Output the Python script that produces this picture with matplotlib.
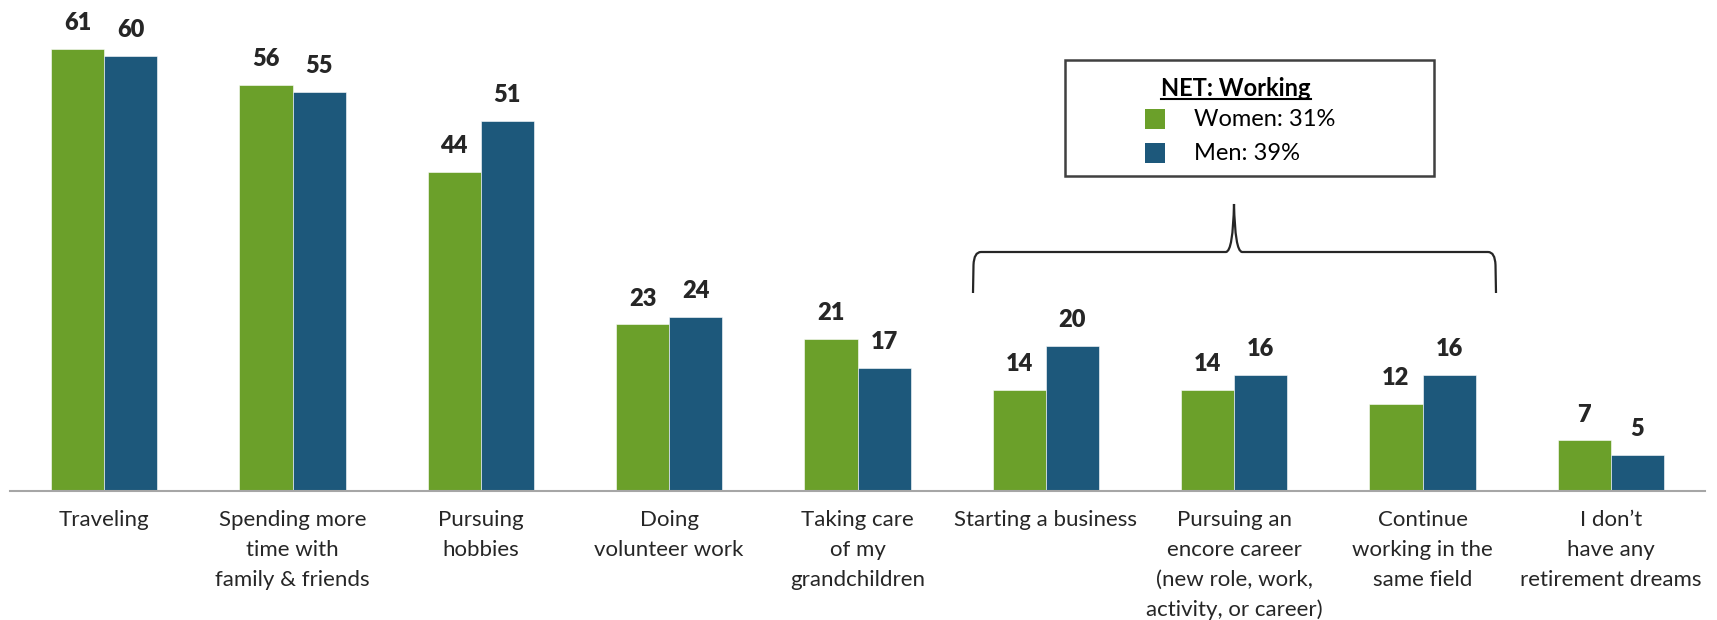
import numpy as np
import matplotlib
matplotlib.use("Agg")
import matplotlib.pyplot as plt
from matplotlib.path import Path
from matplotlib.patches import PathPatch, Rectangle
from matplotlib.lines import Line2D

categories = [
    "Traveling",
    "Spending more\ntime with\nfamily & friends",
    "Pursuing\nhobbies",
    "Doing\nvolunteer work",
    "Taking care\nof my\ngrandchildren",
    "Starting a business",
    "Pursuing an\nencore career\n(new role, work,\nactivity, or career)",
    "Continue\nworking in the\nsame field",
    "I don\u2019t\nhave any\nretirement dreams",
]
women = [61, 56, 44, 23, 21, 14, 14, 12, 7]
men = [60, 55, 51, 24, 17, 20, 16, 16, 5]
legend_title = "NET: Working"
legend_labels = ["Women: 31%", "Men: 39%"]

GREEN = "#6BA02A"
BLUE = "#1D587B"
TXT = "#262626"
FONT = ["Lato", "DejaVu Sans"]
plt.rcParams["font.family"] = FONT

W, H = 1717, 620
fig = plt.figure(figsize=(W / 100, H / 100), dpi=100)
ax = fig.add_axes([10 / W, 129 / H, 1695 / W, (65 * 7.25) / H])

x = np.arange(len(categories))
bw = 0.282
b1 = ax.bar(x - bw / 2, women, bw, color=GREEN, edgecolor="white", linewidth=0.4)
b2 = ax.bar(x + bw / 2, men, bw, color=BLUE, edgecolor="white", linewidth=0.4)

for bars, vals in ((b1, women), (b2, men)):
    for r, v in zip(bars, vals):
        ax.annotate(str(v), (r.get_x() + r.get_width() / 2, r.get_height()),
                    xytext=(0, 13.5), textcoords="offset points",
                    ha="center", va="baseline", fontsize=17, fontweight="heavy",
                    color=TXT)

ax.set_xlim(-0.5, len(categories) - 0.5)
ax.set_ylim(0, 65)
for s in ("left", "right", "top"):
    ax.spines[s].set_visible(False)
ax.spines["bottom"].set_color("#A6A6A6")
ax.spines["bottom"].set_linewidth(1.5)
ax.set_yticks([])
ax.set_xticks(x)
ax.set_xticklabels(categories, fontsize=16, color=TXT, linespacing=1.6)
ax.tick_params(axis="x", length=0, pad=14)

def P(px, py):
    return (px / W, 1 - py / H)

# Brace
verts = [(973, 293), (973.5, 265), (974, 252), (981, 252), (1226, 252),
         (1233, 251), (1234, 204), (1235, 251), (1242, 252), (1488, 252),
         (1495, 252), (1495.5, 265), (1496, 293)]
codes = [Path.MOVETO, Path.LINETO, Path.CURVE3, Path.CURVE3, Path.LINETO,
         Path.CURVE3, Path.CURVE3, Path.CURVE3, Path.CURVE3, Path.LINETO,
         Path.CURVE3, Path.CURVE3, Path.LINETO]
path = Path([P(*v) for v in verts], codes)
fig.add_artist(PathPatch(path, transform=fig.transFigure, fill=False,
                         edgecolor="#262626", linewidth=1.6))

# Legend box
x0, y0, x1, y1 = 1065, 60, 1434, 176
fig.add_artist(Rectangle(P(x0, y1), (x1 - x0) / W, (y1 - y0) / H,
                         transform=fig.transFigure, fill=True, facecolor="white",
                         edgecolor="#404040", linewidth=1.8))
t = fig.text(*P(1236, 88), legend_title, ha="center", va="center",
             fontsize=17, fontweight="bold", color="black")
fig.canvas.draw()
bb = t.get_window_extent(fig.canvas.get_renderer())
uy = bb.y0 + 1
fig.add_artist(Line2D([bb.x0 / W, bb.x1 / W], [uy / H, uy / H],
                      transform=fig.transFigure, color="black", linewidth=1.5))
for i, (lab, col) in enumerate(zip(legend_labels, [GREEN, BLUE])):
    cy = 119 + 34 * i
    fig.add_artist(Rectangle(P(1145, cy + 10), 20 / W, 20 / H,
                             transform=fig.transFigure, facecolor=col,
                             edgecolor="none"))
    fig.text(*P(1194, cy), lab, ha="left", va="center", fontsize=17,
             color="black")

fig.savefig("out.png", dpi=100)
